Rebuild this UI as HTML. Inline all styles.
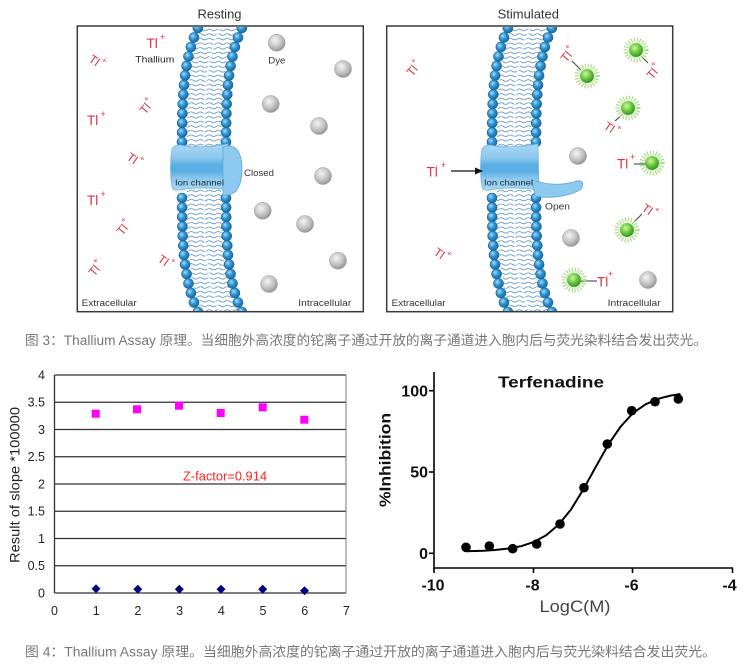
<!DOCTYPE html>
<html>
<head>
<meta charset="utf-8">
<style>
html,body{margin:0;padding:0;background:#fff;}
svg{display:block;}
</style>
</head>
<body>
<svg width="745" height="664" viewBox="0 0 745 664" xmlns="http://www.w3.org/2000/svg" xmlns:xlink="http://www.w3.org/1999/xlink" font-family="'Liberation Sans', Arial, sans-serif">
<defs>
  <radialGradient id="bead" cx="0.38" cy="0.35" r="0.7">
    <stop offset="0" stop-color="#a6dcff"/>
    <stop offset="0.45" stop-color="#2e96d4"/>
    <stop offset="1" stop-color="#16639a"/>
  </radialGradient>
  <radialGradient id="grey" cx="0.4" cy="0.35" r="0.7">
    <stop offset="0" stop-color="#f4f4f4"/>
    <stop offset="0.6" stop-color="#bfbfbf"/>
    <stop offset="1" stop-color="#8e8e8e"/>
  </radialGradient>
  <radialGradient id="green" cx="0.4" cy="0.35" r="0.7">
    <stop offset="0" stop-color="#d2f59a"/>
    <stop offset="0.55" stop-color="#62c43a"/>
    <stop offset="1" stop-color="#2e8c1e"/>
  </radialGradient>
  <linearGradient id="chan" x1="0" y1="0" x2="0" y2="1">
    <stop offset="0" stop-color="#a9d8f4"/>
    <stop offset="0.3" stop-color="#8cc8ee"/>
    <stop offset="0.45" stop-color="#5aaee3"/>
    <stop offset="0.6" stop-color="#5aaee3"/>
    <stop offset="0.75" stop-color="#8cc8ee"/>
    <stop offset="1" stop-color="#a9d8f4"/>
  </linearGradient>
  <pattern id="tails" width="9" height="4.6" patternUnits="userSpaceOnUse">
    <path d="M0 2.3 q2.25 -1.6 4.5 0 t4.5 0" fill="none" stroke="#4a86b8" stroke-width="0.75"/>
  </pattern>
  <clipPath id="pc"><rect x="78" y="27" width="284" height="284"/></clipPath>
  <circle id="b" r="5" fill="url(#bead)" stroke="#1b5f8f" stroke-width="0.6"/>
  <circle id="gy" r="8.5" fill="url(#grey)" stroke="#9a9a9a" stroke-width="0.5"/>
  <g id="gd">
    <circle r="10" fill="none" stroke="#a9dd84" stroke-width="5" stroke-dasharray="1.1 1.7"/>
    <circle r="7" fill="url(#green)"/>
  </g>
  <g id="tlr">
    <text x="-6" y="4" font-size="12" fill="#e0323f">Tl</text>
    <text x="5" y="-3" font-size="8" fill="#e0323f">+</text>
  </g>

  <g id="mem" clip-path="url(#pc)">
    <path d="M223.8,18 L219.9,28 L216,37.5 L212.9,47 L210.5,56.5 L208.6,66 L207.1,75.5 L206,85 L205.3,94.5 L204.7,104 L204.4,113.5 L204.2,123 L204,140 L204,200 L204.2,217 L204.4,226.5 L204.7,236 L205.3,245.5 L206,255 L207.1,264.5 L208.6,274 L210.5,283.5 L212.9,293 L216,302.5 L219.9,312 L223.8,322" fill="none" stroke="url(#tails)" stroke-width="34" stroke-linejoin="round"/>
    <path d="M223.8,18 L219.9,28 L216,37.5 L212.9,47 L210.5,56.5 L208.6,66 L207.1,75.5 L206,85 L205.3,94.5 L204.7,104 L204.4,113.5 L204.2,123 L204,140 L204,200 L204.2,217 L204.4,226.5 L204.7,236 L205.3,245.5 L206,255 L207.1,264.5 L208.6,274 L210.5,283.5 L212.9,293 L216,302.5 L219.9,312 L223.8,322" fill="none" stroke="#fff" stroke-width="1.6" opacity="0.8"/>
    <use href="#b" x="197.9" y="28"/><use href="#b" x="194" y="37.5"/><use href="#b" x="190.9" y="47"/><use href="#b" x="188.5" y="56.5"/><use href="#b" x="186.6" y="66"/><use href="#b" x="185.1" y="75.5"/><use href="#b" x="184" y="85"/><use href="#b" x="183.3" y="94.5"/><use href="#b" x="182.7" y="104"/><use href="#b" x="182.4" y="113.5"/><use href="#b" x="182.2" y="123"/><use href="#b" x="182.1" y="132.5"/><use href="#b" x="182" y="142"/>
    <use href="#b" x="182" y="198"/><use href="#b" x="182.1" y="207.5"/><use href="#b" x="182.2" y="217"/><use href="#b" x="182.4" y="226.5"/><use href="#b" x="182.7" y="236"/><use href="#b" x="183.3" y="245.5"/><use href="#b" x="184" y="255"/><use href="#b" x="185.1" y="264.5"/><use href="#b" x="186.6" y="274"/><use href="#b" x="188.5" y="283.5"/><use href="#b" x="190.9" y="293"/><use href="#b" x="194" y="302.5"/><use href="#b" x="197.9" y="312"/>
    <use href="#b" x="241.9" y="28"/><use href="#b" x="238" y="37.5"/><use href="#b" x="234.9" y="47"/><use href="#b" x="232.5" y="56.5"/><use href="#b" x="230.6" y="66"/><use href="#b" x="229.1" y="75.5"/><use href="#b" x="228" y="85"/><use href="#b" x="227.3" y="94.5"/><use href="#b" x="226.7" y="104"/><use href="#b" x="226.4" y="113.5"/><use href="#b" x="226.2" y="123"/><use href="#b" x="226.1" y="132.5"/><use href="#b" x="226" y="142"/>
    <use href="#b" x="226" y="198"/><use href="#b" x="226.1" y="207.5"/><use href="#b" x="226.2" y="217"/><use href="#b" x="226.4" y="226.5"/><use href="#b" x="226.7" y="236"/><use href="#b" x="227.3" y="245.5"/><use href="#b" x="228" y="255"/><use href="#b" x="229.1" y="264.5"/><use href="#b" x="230.6" y="274"/><use href="#b" x="232.5" y="283.5"/><use href="#b" x="234.9" y="293"/><use href="#b" x="238" y="302.5"/><use href="#b" x="241.9" y="312"/>
  </g>
</defs>

<rect x="0" y="0" width="745" height="664" fill="#fff"/>

<!-- ============ TOP FIGURE ============ -->
<text x="219.5" y="18.3" font-size="13" fill="#333" text-anchor="middle">Resting</text>
<text x="528.3" y="18.3" font-size="13" fill="#333" text-anchor="middle">Stimulated</text>

<!-- membranes -->
<use href="#mem"/>
<use href="#mem" transform="translate(310,0)"/>

<!-- left channel (closed) -->
<path d="M172,149 Q174,145 180,145 Q200,149 228,144 L229,190 Q200,186 180,190 Q173,191 172,187 Q169,168 172,149 Z" fill="url(#chan)" stroke="#6cb4e2" stroke-width="0.8"/>
<path d="M223,147 Q241,141 242,168 Q242,197 223,195 Z" fill="#8ecaef" stroke="#5aa8d8" stroke-width="0.8"/>
<text x="175" y="185.5" font-size="8.5" fill="#1a2a3a" textLength="49" lengthAdjust="spacingAndGlyphs">Ion channel</text>
<text x="244" y="176" font-size="9.5" fill="#333" textLength="30" lengthAdjust="spacingAndGlyphs">Closed</text>

<!-- right channel (open) -->
<path d="M482,149 Q484,145 490,145 Q510,149 538,144 L539,190 Q510,186 490,190 Q483,191 482,187 Q479,168 482,149 Z" fill="url(#chan)" stroke="#6cb4e2" stroke-width="0.8"/>
<path d="M532,180 C550,186 565,185 577,181 C584,179 585,188 578,191 C565,197 548,199 535,196 Z" fill="#8ecaef" stroke="#5aa8d8" stroke-width="0.8"/>
<text x="484" y="185.5" font-size="8.5" fill="#1a2a3a" textLength="49" lengthAdjust="spacingAndGlyphs">Ion channel</text>
<text x="545" y="209.3" font-size="9.5" fill="#333" textLength="25" lengthAdjust="spacingAndGlyphs">Open</text>
<line x1="451" y1="171" x2="477" y2="171" stroke="#111" stroke-width="1.3"/>
<path d="M483,171 L475,167.5 L475,174.5 Z" fill="#111"/>
<text x="426.5" y="176.7" font-size="13.5" fill="#e0323f">Tl</text>
<text x="441" y="168" font-size="9" fill="#e0323f">+</text>

<!-- panel borders -->
<rect x="77.3" y="26" width="286" height="285.7" fill="none" stroke="#3a3a3a" stroke-width="1.5"/>
<rect x="386.7" y="26" width="286" height="285.7" fill="none" stroke="#3a3a3a" stroke-width="1.5"/>

<!-- left panel labels and ions -->
<text x="146.5" y="48" font-size="13.5" fill="#e0323f">Tl</text><text x="160" y="40" font-size="9" fill="#e0323f">+</text>
<text x="135.3" y="62.7" font-size="9.5" fill="#222" textLength="39" lengthAdjust="spacingAndGlyphs">Thallium</text>
<text x="87" y="125" font-size="13.5" fill="#e0323f">Tl</text><text x="100.5" y="117" font-size="9" fill="#e0323f">+</text>
<text x="87" y="205" font-size="13.5" fill="#e0323f">Tl</text><text x="100.5" y="197" font-size="9" fill="#e0323f">+</text>
<use href="#tlr" transform="translate(95,61) rotate(35)"/>
<use href="#tlr" transform="translate(146,108) rotate(-50)"/>
<use href="#tlr" transform="translate(133,159) rotate(35)"/>
<use href="#tlr" transform="translate(123,229) rotate(-50)"/>
<use href="#tlr" transform="translate(95,270) rotate(-50)"/>
<use href="#tlr" transform="translate(164,261) rotate(35)"/>
<text x="268.3" y="63.3" font-size="9.5" fill="#333" textLength="17" lengthAdjust="spacingAndGlyphs">Dye</text>
<text x="81.7" y="306" font-size="9" fill="#333" textLength="55" lengthAdjust="spacingAndGlyphs">Extracellular</text>
<text x="298.3" y="306" font-size="9" fill="#333" textLength="53" lengthAdjust="spacingAndGlyphs">Intracellular</text>
<use href="#gy" x="276.7" y="42.7"/>
<use href="#gy" x="343" y="69"/>
<use href="#gy" x="270.7" y="104"/>
<use href="#gy" x="319" y="126"/>
<use href="#gy" x="323" y="176"/>
<use href="#gy" x="262.7" y="210.7"/>
<use href="#gy" x="305" y="224"/>
<use href="#gy" x="338" y="260.7"/>
<use href="#gy" x="269" y="284"/>

<!-- right panel labels and ions -->
<use href="#tlr" transform="translate(413,70) rotate(-50)"/>
<use href="#tlr" transform="translate(440,254) rotate(35)"/>
<text x="391.7" y="306" font-size="9" fill="#333" textLength="54" lengthAdjust="spacingAndGlyphs">Extracellular</text>
<text x="607.7" y="306" font-size="9" fill="#333" textLength="53" lengthAdjust="spacingAndGlyphs">Intracellular</text>
<use href="#gy" x="578" y="156"/>
<use href="#gy" x="571" y="238"/>
<use href="#gy" x="648" y="280"/>
<g stroke="#555" stroke-width="1.2">
  <line x1="581" y1="70" x2="572" y2="61"/>
  <line x1="641" y1="56" x2="648" y2="63"/>
  <line x1="623" y1="114" x2="615" y2="121"/>
  <line x1="632" y1="224" x2="642" y2="214"/>
  <line x1="634" y1="164" x2="646" y2="164"/>
  <line x1="581" y1="281" x2="597" y2="281"/>
</g>
<use href="#gd" x="587" y="76"/>
<use href="#gd" x="636" y="50"/>
<use href="#gd" x="628" y="108"/>
<use href="#gd" x="652" y="163"/>
<use href="#gd" x="627" y="230"/>
<use href="#gd" x="574" y="280"/>
<use href="#tlr" transform="translate(567,56) rotate(-50)"/>
<use href="#tlr" transform="translate(653,73) rotate(-50)"/>
<use href="#tlr" transform="translate(610,128) rotate(35)"/>
<use href="#tlr" transform="translate(648,210) rotate(35)"/>
<text x="617" y="168.5" font-size="13.5" fill="#e0323f">Tl</text><text x="630" y="160" font-size="9" fill="#e0323f">+</text>
<text x="597" y="286.5" font-size="13.5" fill="#e0323f">Tl</text><text x="608" y="277" font-size="9" fill="#e0323f">+</text>

<!-- caption 3 -->
<text x="25" y="345" font-size="13.5" fill="#777" textLength="682" lengthAdjust="spacingAndGlyphs" font-family="'Liberation Sans', 'Noto Sans CJK SC', sans-serif">图 3：Thallium Assay 原理。当细胞外高浓度的铊离子通过开放的离子通道进入胞内后与荧光染料结合发出荧光。</text>

<!-- ============ LEFT CHART ============ -->
<g stroke="#333" stroke-width="1.3">
  <line x1="54.5" y1="375" x2="346" y2="375"/>
  <line x1="54.5" y1="402.25" x2="346" y2="402.25"/>
  <line x1="54.5" y1="429.5" x2="346" y2="429.5"/>
  <line x1="54.5" y1="456.75" x2="346" y2="456.75"/>
  <line x1="54.5" y1="484" x2="346" y2="484"/>
  <line x1="54.5" y1="511.25" x2="346" y2="511.25"/>
  <line x1="54.5" y1="538.5" x2="346" y2="538.5"/>
  <line x1="54.5" y1="565.75" x2="346" y2="565.75"/>
  <line x1="54.5" y1="593" x2="346" y2="593"/>
  <line x1="54.5" y1="375" x2="54.5" y2="593"/>
</g>
<line x1="346" y1="375" x2="346" y2="593" stroke="#777" stroke-width="1"/>
<g font-size="12.5" fill="#222" text-anchor="end">
  <text x="45" y="379.5">4</text>
  <text x="45" y="406.7">3.5</text>
  <text x="45" y="434">3</text>
  <text x="45" y="461.2">2.5</text>
  <text x="45" y="488.5">2</text>
  <text x="45" y="515.7">1.5</text>
  <text x="45" y="543">1</text>
  <text x="45" y="570.2">0.5</text>
  <text x="45" y="597.5">0</text>
</g>
<g font-size="12.5" fill="#222" text-anchor="middle">
  <text x="54.5" y="615">0</text>
  <text x="96.2" y="615">1</text>
  <text x="137.9" y="615">2</text>
  <text x="179.6" y="615">3</text>
  <text x="221.3" y="615">4</text>
  <text x="263" y="615">5</text>
  <text x="304.7" y="615">6</text>
  <text x="346.4" y="615">7</text>
</g>
<text transform="translate(19.5,485) rotate(-90)" font-size="14" fill="#222" text-anchor="middle" textLength="156" lengthAdjust="spacingAndGlyphs">Result of slope *100000</text>
<g fill="#ff00ff">
  <rect x="91.7" y="409.7" width="8" height="8"/>
  <rect x="133" y="405.3" width="8" height="8"/>
  <rect x="175" y="401.7" width="8" height="8"/>
  <rect x="216.7" y="409" width="8" height="8"/>
  <rect x="258.7" y="403.3" width="8" height="8"/>
  <rect x="300.3" y="415.7" width="8" height="8"/>
</g>
<g fill="#000080">
  <path d="M96,584.2 L100.5,588.7 L96,593.2 L91.5,588.7 Z"/>
  <path d="M137.8,584.8 L142.3,589.3 L137.8,593.8 L133.3,589.3 Z"/>
  <path d="M179.3,584.8 L183.8,589.3 L179.3,593.8 L174.8,589.3 Z"/>
  <path d="M221,584.8 L225.5,589.3 L221,593.8 L216.5,589.3 Z"/>
  <path d="M262.7,584.8 L267.2,589.3 L262.7,593.8 L258.2,589.3 Z"/>
  <path d="M304.5,586.2 L309,590.7 L304.5,595.2 L300,590.7 Z"/>
</g>
<text x="183" y="480.5" font-size="13" fill="#ff2222" textLength="84" lengthAdjust="spacingAndGlyphs">Z-factor=0.914</text>

<!-- ============ RIGHT CHART ============ -->
<g stroke="#000" stroke-width="1.6" fill="none">
  <line x1="434" y1="372" x2="434" y2="568.8"/>
  <line x1="433.2" y1="568" x2="733" y2="568"/>
  <line x1="429" y1="390.7" x2="434" y2="390.7"/>
  <line x1="429" y1="472" x2="434" y2="472"/>
  <line x1="429" y1="553.3" x2="434" y2="553.3"/>
  <line x1="434" y1="568" x2="434" y2="573"/>
  <line x1="533.5" y1="568" x2="533.5" y2="573"/>
  <line x1="632.5" y1="568" x2="632.5" y2="573"/>
  <line x1="732.5" y1="568" x2="732.5" y2="573"/>
</g>
<g font-size="16" font-weight="bold" fill="#111" text-anchor="end">
  <text x="428" y="396.7">100</text>
  <text x="428" y="477.5">50</text>
  <text x="428" y="559">0</text>
</g>
<g font-size="16" font-weight="bold" fill="#111" text-anchor="middle">
  <text x="433" y="590.7">-10</text>
  <text x="532.5" y="590.7">-8</text>
  <text x="631.5" y="590.7">-6</text>
  <text x="729.5" y="590.7">-4</text>
</g>
<text x="575" y="612" font-size="16.5" fill="#444" text-anchor="middle" textLength="71" lengthAdjust="spacingAndGlyphs">LogC(M)</text>
<text transform="translate(390.5,460) rotate(-90)" font-size="16" font-weight="bold" fill="#111" text-anchor="middle" textLength="94" lengthAdjust="spacingAndGlyphs">%Inhibition</text>
<text x="551" y="387.3" font-size="16" font-weight="bold" fill="#111" text-anchor="middle" textLength="106" lengthAdjust="spacingAndGlyphs">Terfenadine</text>
<polyline fill="none" stroke="#000" stroke-width="2" stroke-linejoin="round" points="466.3,551.2 483.75,550.7 496.2,549.9 508.6,548.5 521.1,546.2 533.5,542.1 546,535.4 558.4,524.9 570.9,509.6 583.3,489.5 595.8,466.8 608.2,444.7 620.7,426.5 633,413.1 645.6,404.3 658,398.8 670.5,395.6 680.5,394"/>
<g fill="#000">
  <circle cx="466" cy="547.3" r="4.8"/>
  <circle cx="489.3" cy="546" r="4.8"/>
  <circle cx="512.7" cy="548.7" r="4.8"/>
  <circle cx="536.7" cy="544" r="4.8"/>
  <circle cx="560" cy="524" r="4.8"/>
  <circle cx="584" cy="487.7" r="4.8"/>
  <circle cx="607.3" cy="444" r="4.8"/>
  <circle cx="631.7" cy="410.7" r="4.8"/>
  <circle cx="655" cy="401.7" r="4.8"/>
  <circle cx="678.3" cy="399" r="4.8"/>
</g>

<!-- caption 4 -->
<text x="25" y="656.5" font-size="13.5" fill="#777" textLength="691" lengthAdjust="spacingAndGlyphs" font-family="'Liberation Sans', 'Noto Sans CJK SC', sans-serif">图 4：Thallium Assay 原理。当细胞外高浓度的铊离子通过开放的离子通道进入胞内后与荧光染料结合发出荧光。</text>
</svg>
</body>
</html>
